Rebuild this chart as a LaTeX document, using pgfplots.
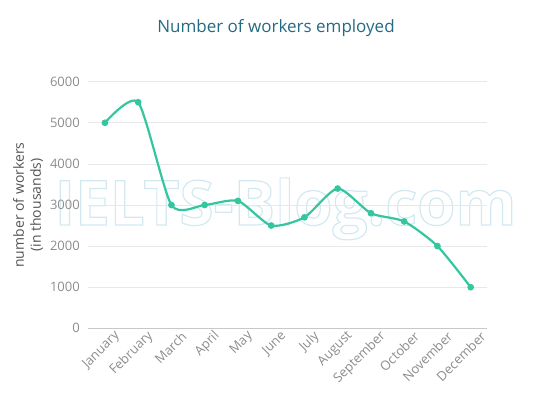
\documentclass[border=0pt]{standalone}
\usepackage{pgfplots}
\pgfplotsset{compat=1.18}
\usepackage{fontspec}
\setmainfont{Open Sans}
\definecolor{linec}{HTML}{34C69E}
\definecolor{titlec}{HTML}{236B84}
\definecolor{gridc}{HTML}{E8E8E8}
\definecolor{axisc}{HTML}{C8C8C8}
\definecolor{tickc}{HTML}{8C8C8C}
\definecolor{labc}{HTML}{555555}
\definecolor{wmc}{HTML}{D2E9F2}
\begin{document}
\begin{tikzpicture}[x=1pt,y=1pt]
\path[use as bounding box] (0,0) rectangle (540,405);
\node[text=titlec, font=\fontsize{17}{20}\selectfont, anchor=base] at (276,372) {Number of workers employed};
\node[text=wmc, font=\fontsize{62}{64}\bfseries\selectfont, anchor=base] at (285.5,180) {\special{pdf:literal direct 1 Tr 1.2 w}IELTS-Blog.com\special{pdf:literal direct 0 Tr}};
\begin{axis}[
  at={(88.3pt,76.7pt)}, anchor=south west,
  scale only axis, width=399pt, height=246.6pt,
  xmin=-0.5, xmax=11.5, ymin=0, ymax=6000,
  ytick={0,1000,2000,3000,4000,5000,6000},
  xtick={0,1,2,3,4,5,6,7,8,9,10,11},
  xticklabels={January,February,March,April,May,June,July,August,September,October,November,December},
  axis line style={draw=none},
  major tick length=0pt,
  ymajorgrids, grid style={gridc, line width=0.8pt},
  /pgf/number format/assume math mode=true,
  /pgf/number format/1000 sep={},
  yticklabel style={font=\fontsize{13}{15}\selectfont, text=tickc, xshift=-5pt},
  xticklabel style={font=\fontsize{13}{15}\selectfont, text=tickc, rotate=45, anchor=east, inner sep=0pt, xshift=5pt, yshift=-13pt},
  every axis y label/.style={at={(axis description cs:-0.151,0.5)}, rotate=90, anchor=center, align=center, font=\fontsize{14}{17}\selectfont, text=labc},
  ylabel={number of workers\\(in thousands)},
  clip=false,
]
\draw[axisc, line width=0.8pt] (axis cs:-0.5,0) -- (axis cs:11.5,0);
\addplot[linec, line width=2.2pt, smooth, tension=0.4, mark=*, mark size=2.2pt, mark options={fill=linec, draw=linec}]
  coordinates {(0,5000) (1,5500) (2,3000) (3,3000) (4,3100) (5,2500) (6,2700) (7,3400) (8,2800) (9,2600) (10,2000) (11,1000)};
\end{axis}
\end{tikzpicture}
\end{document}
